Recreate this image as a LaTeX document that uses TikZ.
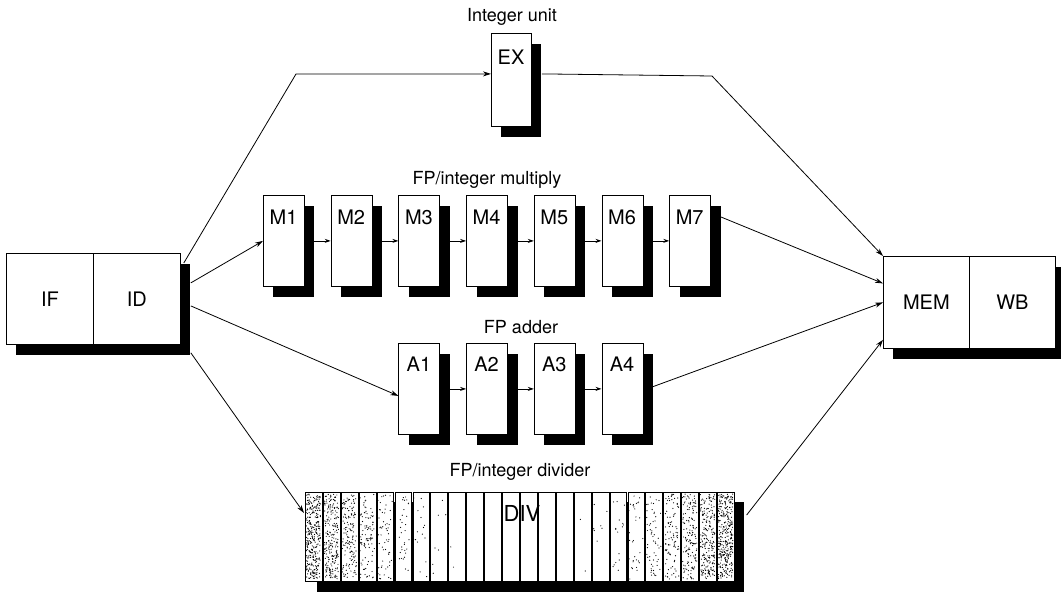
\documentclass[tikz,border=0pt]{standalone}
\usepackage{fontspec}
\setmainfont{TeX Gyre Heros}
\usetikzlibrary{arrows.meta,calc,shadows}
\tikzset{
  shad/.style={drop shadow={shadow xshift=10pt,shadow yshift=-11pt,fill=black,opacity=1}},
  stage/.style={draw=black,line width=0.8pt,fill=white,inner sep=0pt,anchor=north west,
     minimum width=41pt,minimum height=91pt,shad},
  bigbox/.style={draw=black,line width=0.8pt,fill=white,inner sep=0pt,anchor=north west,
     minimum width=87pt,minimum height=91pt,shad,font=\fontsize{20}{24}\selectfont},
  strip/.style={draw=black,line width=0.7pt,fill=white,inner sep=0pt,anchor=north west,
     minimum width=16.8pt,minimum height=89pt},
  hdr/.style={font=\fontsize{18}{21}\selectfont,inner sep=0pt},
  lbl/.style={font=\fontsize{20}{24}\selectfont,inner sep=0pt},
  arr/.style={line width=0.8pt,-{Stealth[length=8pt,width=5pt]}},
  sarr/.style={line width=0.8pt,-{Stealth[length=6pt,width=4pt]}}
}
\begin{document}
\begin{tikzpicture}[x=1pt,y=-1pt]
\useasboundingbox[fill=white] (0,0) rectangle (1061,597);

% IF / ID
\node[bigbox] (if) at (6,253) {IF};
\node[bigbox] (id) at (93,253) {ID};

% MEM / WB
\node[bigbox,minimum width=86pt,minimum height=92pt] (mem) at (883,256) {MEM};
\node[bigbox,minimum width=86pt,minimum height=92pt] (wb) at (969,256) {WB};

% Integer unit
\node[hdr] (hint) at (512,17) {Integer unit};
\node[stage,minimum width=40pt,minimum height=93pt] (ex) at (491,33) {};
\node[lbl] (ext) at (511,57) {EX};

% FP/integer multiply
\node[hdr] (hmul) at (487,180) {FP/integer multiply};
\foreach \i in {1,...,7}{
  \node[stage] (m\i) at ({263+67.7*(\i-1)},195) {};
  \node[lbl] (m\i t) at ({283.5+67.7*(\i-1)},217) {M\i};
}
\foreach \i [evaluate=\i as \j using int(\i+1)] in {1,...,6}{
  \draw[sarr] ($(m\i.east)+(9,0)$) -- (m\j.west);
}

% FP adder
\node[hdr] (hadd) at (521,327) {FP adder};
\foreach \i in {1,...,4}{
  \node[stage] (a\i) at ({398.4+67.7*(\i-1)},343) {};
  \node[lbl] (a\i t) at ({418.9+67.7*(\i-1)},364) {A\i};
}
\foreach \i [evaluate=\i as \j using int(\i+1)] in {1,...,3}{
  \draw[sarr] ($(a\i.east)+(9,0)$) -- (a\j.west);
}

% FP/integer divider
\node[hdr] (hdiv) at (520,472) {FP/integer divider};
\fill[black] (317,502) rectangle (744,592);
\foreach \i in {0,...,23}{
  \node[strip] (s\i) at ({305+\i*17.92},492) {};
}
\pgfmathsetseed{12345}
\foreach \i in {0,...,23}{
  \pgfmathtruncatemacro\n{320*(abs(\i-11.5)/11.5)^4}
  \ifnum\n>0
    \foreach \k in {1,...,\n}{
      \fill[black] ({305+\i*17.92+1.2+rnd*14.4},{494+rnd*85}) circle (0.6pt);
    }
  \fi
}
\node[lbl,font=\fontsize{22}{26}\selectfont] (divt) at (522,513) {DIV};

% connectors
\coordinate (b1) at (296,74);
\coordinate (b2) at (712,76);
\draw[arr] ($(id.north east)+(3,10)$) -- (b1) -- ($(ex.west)+(0,-6)$);
\draw[arr] ($(ex.east)+(10,-6)$) -- (b2) -- (mem.north west);
\draw[arr] ($(id.east)+(10,-16)$) -- (m1.west);
\draw[arr] ($(id.east)+(10,7)$) -- ($(a1.west)+(0,7)$);
\draw[arr] ($(id.south east)+(10,8)$) -- ($(s0.north west)+(-1,21)$);
\draw[arr] ($(m7.north east)+(10,22)$) -- ($(mem.west)+(0,-19)$);
\draw[arr] ($(a4.east)+(9,-2)$) -- (mem.west);
\draw[arr] ($(s23.north east)+(12,23)$) -- ($(mem.south west)+(0,-9)$);
\end{tikzpicture}
\end{document}
